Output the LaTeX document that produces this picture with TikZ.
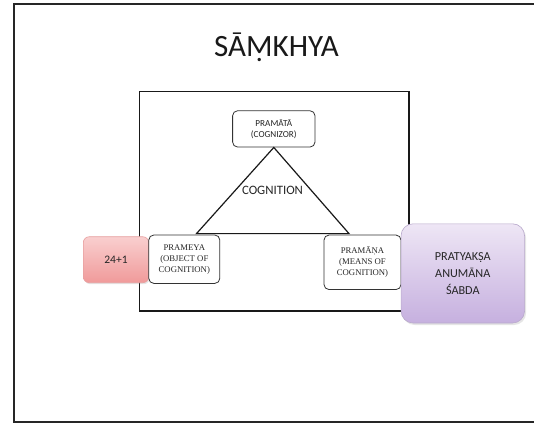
\documentclass[tikz,border=0pt]{standalone}
\usepackage{fontspec}
\setmainfont{Liberation Serif}
\newfontfamily\calfont{Carlito}
\usetikzlibrary{shadows}
\definecolor{txtgray}{HTML}{262626}
\definecolor{pinktop}{HTML}{F9CFCF}
\definecolor{pinkbot}{HTML}{F09A9A}
\definecolor{pinkline}{HTML}{E8A0A0}
\definecolor{purptop}{HTML}{EEE6F5}
\definecolor{purpbot}{HTML}{C6B0DF}
\definecolor{purpline}{HTML}{B9A9CC}
\tikzset{
  smallbox/.style={draw=black!80, line width=0.8pt, fill=white, rounded corners=5pt,
    inner sep=0pt, align=center, text=txtgray},
  serifsmall/.style={font=\fontsize{8.7}{11}\selectfont},
  sanssmall/.style={font=\calfont\fontsize{9.2}{10.5}\selectfont},
  pinkbox/.style={draw=pinkline, line width=0.6pt, rounded corners=6pt, top color=pinktop,
    bottom color=pinkbot, inner sep=0pt, align=center,
    drop shadow={opacity=0.2, shadow xshift=1pt, shadow yshift=-1.5pt}},
  purpbox/.style={draw=purpline, line width=0.6pt, rounded corners=12pt, top color=purptop,
    bottom color=purpbot, inner sep=0pt, align=center,
    drop shadow={opacity=0.2, shadow xshift=1.5pt, shadow yshift=-2pt}},
  frameline/.style={line width=1.6pt, draw=black!85},
  innerframe/.style={line width=1.6pt, draw=black!90},
  triline/.style={line width=1.2pt, draw=black!90}
}
\begin{document}
\begin{tikzpicture}[x=1pt,y=-1pt]
\useasboundingbox[fill=white] (0,0) rectangle (534,423);
% outer slide frame (right edge lies outside the picture)
\draw[frameline] (545,4) -- (14,4) -- (14,422) -- (545,422);
% title
\node[font=\calfont\fontsize{31}{37}\selectfont, text=black!90] (title) at (276.5,47) {SĀṂKHYA};
% inner frame
\draw[innerframe] (139.6,91.3) rectangle (408.7,311);
% nodes
\node[smallbox, sanssmall, minimum width=82.4pt, minimum height=36.3pt] (pramata) at (273.8,128.9)
  {PRAMĀTĀ\\(COGNIZOR)};
\coordinate (bl) at (196.5,233.6);
\coordinate (br) at (349,233.6);
\draw[triline] (bl) -- (pramata.south) -- (br) -- cycle;
\node[font=\calfont\fontsize{12.8}{15}\selectfont, text=txtgray] (cog) at (272.5,190) {COGNITION};
\node[pinkbox, minimum width=65.4pt, minimum height=46pt, font=\calfont\fontsize{11.5}{13}\selectfont, text=txtgray]
  (num) at (116,259.7) {24+1};
\node[smallbox, serifsmall, minimum width=71pt, minimum height=48.4pt] (prameya) at (184.3,259.2)
  {PRAMEYA\\(OBJECT OF\\COGNITION)};
\node[smallbox, serifsmall, minimum width=77pt, minimum height=54.5pt] (pramana) at (362.5,262.3)
  {PRAMĀṆA\\(MEANS OF\\COGNITION)};
\node[purpbox, minimum width=123.5pt, minimum height=99.2pt, font=\calfont\fontsize{12.2}{17.3}\selectfont, text=txtgray]
  (pram) at (462.8,273.4) {PRATYAKṢA\\ANUMĀNA\\ŚABDA};
\end{tikzpicture}
\end{document}
